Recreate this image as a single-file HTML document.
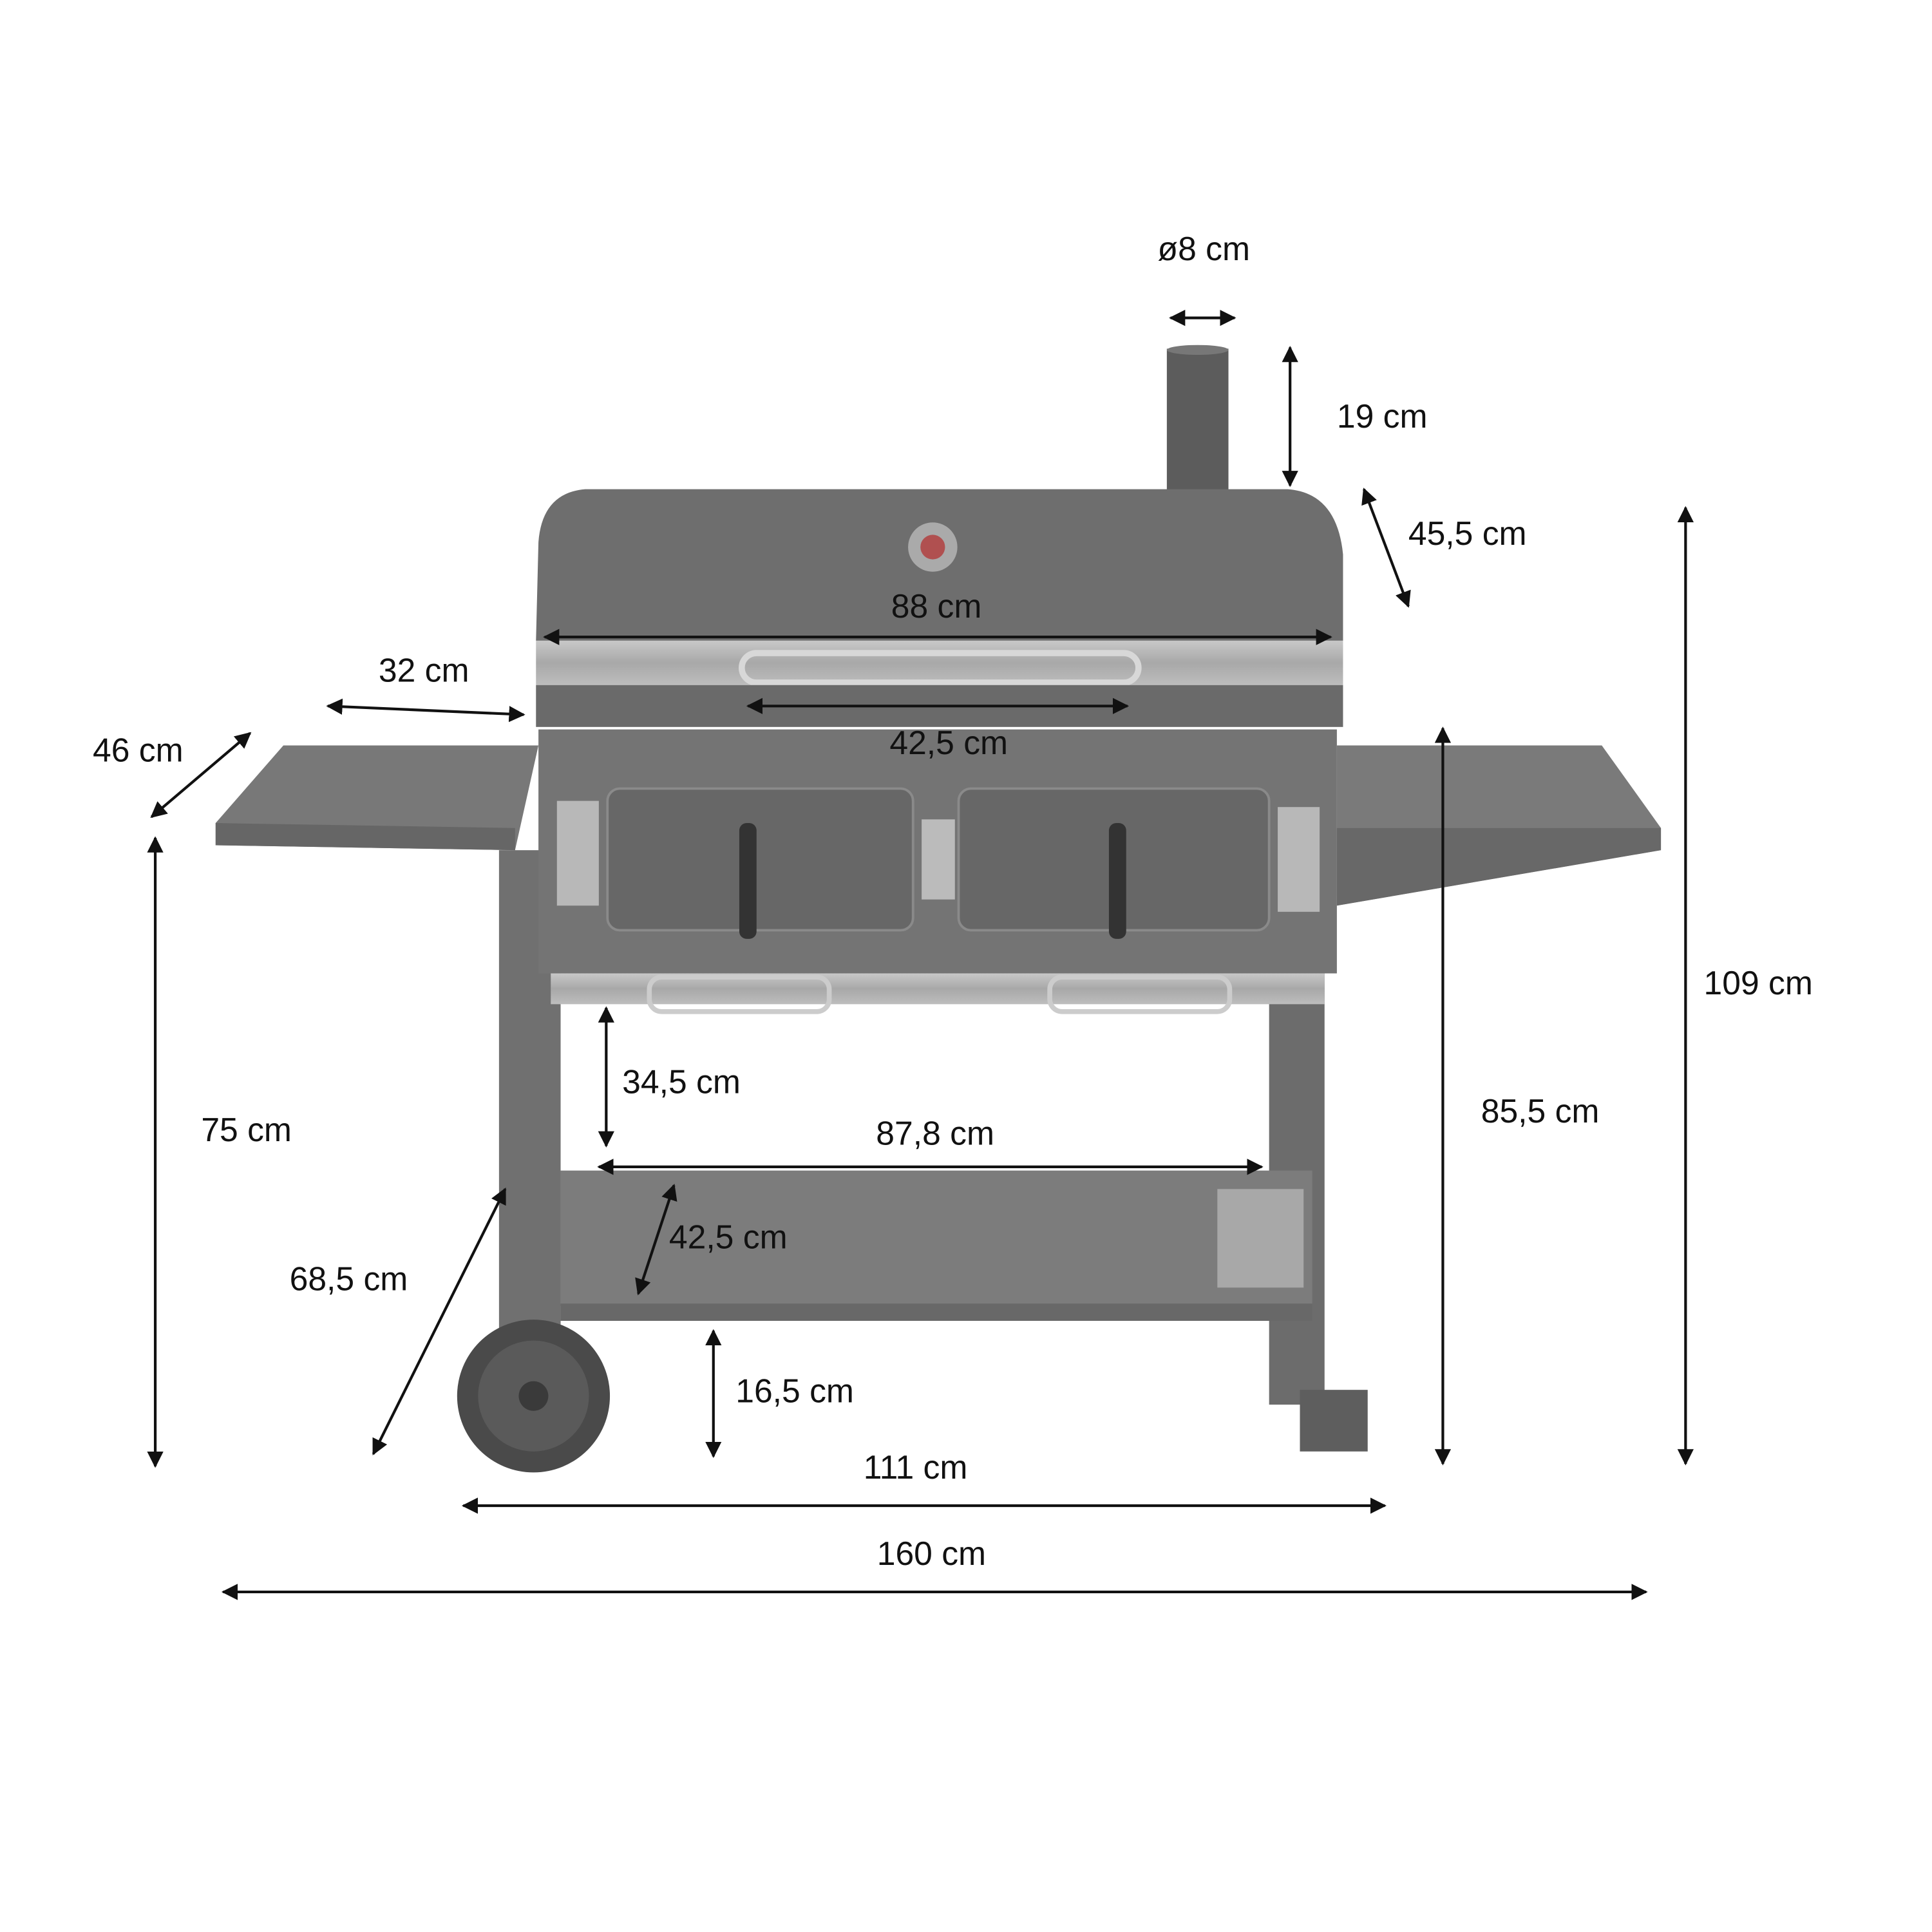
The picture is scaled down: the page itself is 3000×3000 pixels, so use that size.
<!DOCTYPE html>
<html><head><meta charset="utf-8"><style>
html,body{margin:0;padding:0;background:#fff;}
svg{display:block;}
text{font-family:"Liberation Sans",sans-serif;font-size:27px;fill:#111;dominant-baseline:middle;}
</style></head><body>
<svg width="3000" height="3000" viewBox="0 0 1568 1568" xmlns="http://www.w3.org/2000/svg">
<defs>
<marker id="a" viewBox="0 0 10 10" refX="9" refY="5" markerWidth="6" markerHeight="6" orient="auto-start-reverse"><path d="M0,0 L10,5 L0,10 z" fill="#111"/></marker>
<linearGradient id="sil" x1="0" y1="0" x2="0" y2="1"><stop offset="0" stop-color="#c8c8c8"/><stop offset="0.5" stop-color="#a8a8a8"/><stop offset="1" stop-color="#bdbdbd"/></linearGradient>
</defs>
<rect width="1568" height="1568" fill="#fff"/>
<polygon points="175,668 230,605 437,605 418,690 175,686" fill="#787878"/>
<polygon points="175,668 418,672 418,690 175,686" fill="#666"/>
<polygon points="1085,605 1300,605 1348,672 1348,690 1085,735" fill="#7a7a7a"/>
<polygon points="1085,672 1348,672 1348,690 1085,735" fill="#686868"/>
<rect x="405" y="690" width="50" height="395" fill="#707070"/>
<rect x="1030" y="790" width="45" height="350" fill="#6c6c6c"/>
<rect x="1055" y="1128" width="55" height="50" fill="#5e5e5e"/>
<polygon points="455,950 1065,950 1065,1060 455,1060" fill="#7c7c7c"/>
<rect x="455" y="1058" width="610" height="14" fill="#686868"/>
<rect x="988" y="965" width="70" height="80" fill="#a8a8a8"/>
<rect x="947" y="283" width="50" height="127" fill="#5c5c5c"/>
<ellipse cx="972" cy="284" rx="25" ry="4" fill="#777"/>
<path d="M435,520 L437,440 Q440,400 475,397 L1045,397 Q1085,400 1090,450 L1090,520 Z" fill="#6e6e6e"/>
<circle cx="757" cy="444" r="20" fill="#aaa"/><circle cx="757" cy="444" r="10" fill="#b05050"/>
<rect x="435" y="520" width="655" height="36" fill="url(#sil)"/>
<rect x="602" y="530" width="322" height="24" rx="12" fill="none" stroke="#d8d8d8" stroke-width="5"/>
<rect x="435" y="556" width="655" height="34" fill="#6a6a6a"/>
<rect x="437" y="592" width="648" height="198" fill="#747474"/>
<rect x="493" y="640" width="248" height="115" rx="10" fill="#676767" stroke="#8a8a8a" stroke-width="2"/>
<rect x="778" y="640" width="252" height="115" rx="10" fill="#676767" stroke="#8a8a8a" stroke-width="2"/>
<rect x="600" y="668" width="14" height="94" rx="6" fill="#333"/>
<rect x="900" y="668" width="14" height="94" rx="6" fill="#333"/>
<rect x="452" y="650" width="34" height="85" fill="#b8b8b8"/>
<rect x="1037" y="655" width="34" height="85" fill="#b8b8b8"/>
<rect x="748" y="665" width="27" height="65" fill="#bbb"/>
<rect x="447" y="790" width="628" height="25" fill="url(#sil)"/>
<rect x="527" y="793" width="146" height="28" rx="10" fill="none" stroke="#ccc" stroke-width="4"/>
<rect x="852" y="793" width="146" height="28" rx="10" fill="none" stroke="#ccc" stroke-width="4"/>
<circle cx="433" cy="1133" r="62" fill="#4a4a4a"/>
<circle cx="433" cy="1133" r="45" fill="#5a5a5a"/>
<circle cx="433" cy="1133" r="12" fill="#3a3a3a"/>
<g stroke="#111" stroke-width="2.2" marker-start="url(#a)" marker-end="url(#a)">
<line x1="950" y1="258" x2="1002" y2="258"/>
<line x1="1047" y1="282" x2="1047" y2="394"/>
<line x1="1107" y1="397" x2="1143" y2="492"/>
<line x1="442" y1="517" x2="1080" y2="517"/>
<line x1="607" y1="573" x2="915" y2="573"/>
<line x1="266" y1="573" x2="425" y2="580"/>
<line x1="123" y1="663" x2="203" y2="595"/>
<line x1="126" y1="680" x2="126" y2="1190"/>
<line x1="1368" y1="412" x2="1368" y2="1188"/>
<line x1="1171" y1="591" x2="1171" y2="1188"/>
<line x1="492" y1="818" x2="492" y2="930"/>
<line x1="486" y1="947" x2="1024" y2="947"/>
<line x1="547" y1="962" x2="518" y2="1050"/>
<line x1="410" y1="965" x2="303" y2="1180"/>
<line x1="579" y1="1080" x2="579" y2="1182"/>
<line x1="376" y1="1222" x2="1124" y2="1222"/>
<line x1="181" y1="1292" x2="1336" y2="1292"/>
</g>
<g text-anchor="middle">
<text x="977" y="204">ø8 cm</text>
<text x="760" y="494">88 cm</text>
<text x="770" y="605">42,5 cm</text>
<text x="344" y="546">32 cm</text>
<text x="112" y="611">46 cm</text>
<text x="200" y="919">75 cm</text>
<text x="1427" y="800">109 cm</text>
<text x="1250" y="904">85,5 cm</text>
<text x="759" y="922">87,8 cm</text>
<text x="283" y="1040">68,5 cm</text>
<text x="743" y="1193">111 cm</text>
<text x="756" y="1263">160 cm</text>
</g>
<g text-anchor="start">
<text x="1085" y="340">19 cm</text>
<text x="1143" y="435">45,5 cm</text>
<text x="505" y="880">34,5 cm</text>
<text x="543" y="1006">42,5 cm</text>
<text x="597" y="1131">16,5 cm</text>
</g>
</svg>
</body></html>
